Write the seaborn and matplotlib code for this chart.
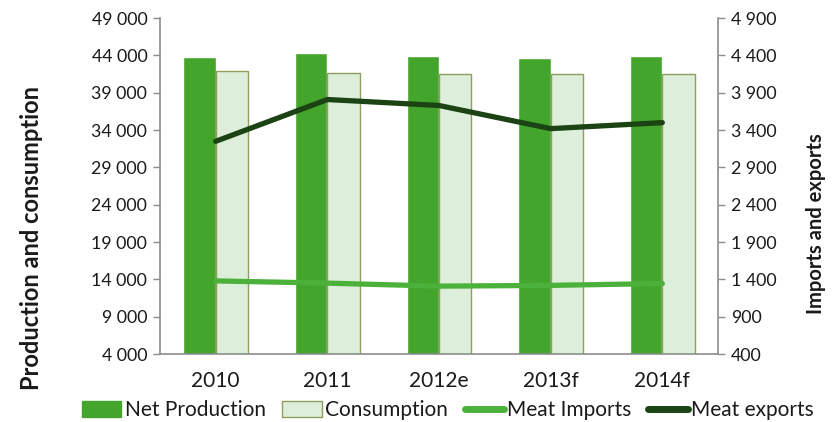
import numpy as np
import pandas as pd
import matplotlib
matplotlib.use('Agg')
import matplotlib.pyplot as plt
import matplotlib.ticker as ticker
from matplotlib.patches import Patch
from matplotlib.lines import Line2D
import seaborn as sns

# ── Data ─────────────────────────────────────────────────────────────────────
years = ['2010', '2011', '2012e', '2013f', '2014f']
net_production = [43800, 44300, 43900, 43700, 43900]
consumption = [41900, 41700, 41500, 41500, 41500]
meat_imports = [1380, 1350, 1310, 1320, 1345]
meat_exports = [3250, 3810, 3730, 3420, 3500]

left_ticks = [4000, 9000, 14000, 19000, 24000, 29000, 34000, 39000, 44000, 49000]
right_ticks = [400, 900, 1400, 1900, 2400, 2900, 3400, 3900, 4400, 4900]

# ── Style ────────────────────────────────────────────────────────────────────
sns.set_theme(style="white")
plt.rcParams['font.family'] = ['Lato', 'DejaVu Sans']

c_prod = '#43a52b'
c_cons = '#ddeedb'
c_cons_edge = '#8f9e5a'
c_imp = '#4cb13a'
c_exp = '#1b4313'
spine_c = '#8c8c8c'
txt_c = '#1a1a1a'

df = pd.DataFrame({
    'Year': years * 2,
    'Value': net_production + consumption,
    'Series': ['Net Production'] * len(years) + ['Consumption'] * len(years),
})

fig = plt.figure(figsize=(8.37, 4.22), dpi=100)
ax = fig.add_axes([0.191, 0.161, 0.667, 0.796])

sns.barplot(data=df, x='Year', y='Value', hue='Series',
            palette={'Net Production': c_prod, 'Consumption': c_cons},
            width=0.58, gap=0, ax=ax, legend=False, saturation=1)
for p in ax.patches[len(years):]:
    p.set_edgecolor(c_cons_edge)
    p.set_linewidth(1.0)

ax.set_ylim(4000, 49000)
ax.set_xlim(-0.5, len(years) - 0.5)
ax.set_yticks(left_ticks)
ax.yaxis.set_major_formatter(ticker.FuncFormatter(lambda v, _: f'{v:,.0f}'.replace(',', ' ')))

ax2 = ax.twinx()
xpos = np.arange(len(years))
sns.lineplot(x=xpos, y=meat_imports, ax=ax2, color=c_imp, linewidth=3.8,
             solid_capstyle='round')
sns.lineplot(x=xpos, y=meat_exports, ax=ax2, color=c_exp, linewidth=3.8,
             solid_capstyle='round')
ax2.set_ylim(400, 4900)
ax2.set_yticks(right_ticks)
ax2.yaxis.set_major_formatter(ticker.FuncFormatter(lambda v, _: f'{v:,.0f}'.replace(',', ' ')))
ax2.set_xlim(-0.5, len(years) - 0.5)

# category axis: labels at centres, ticks between groups
ax.set_xticks(xpos)
ax.set_xticklabels(years)
ax.set_xticks(np.arange(-0.5, len(years), 1.0), minor=True)
ax.tick_params(axis='x', which='major', length=0, pad=12, labelsize=15, labelcolor=txt_c)
ax.tick_params(axis='x', which='minor', length=6, width=1, color=spine_c, direction='out')
ax.tick_params(axis='y', length=5, width=1, color=spine_c, direction='out',
               labelsize=12.8, labelcolor=txt_c, pad=4)
ax2.tick_params(axis='y', length=5, width=1, color=spine_c, direction='out',
                labelsize=12.8, labelcolor=txt_c, pad=4)
ax.set_xlabel('')
ax.set_ylabel('')
ax2.set_ylabel('')

for a in (ax, ax2):
    a.spines['top'].set_visible(False)
    for s in ('left', 'right', 'bottom'):
        a.spines[s].set_color(spine_c)
        a.spines[s].set_linewidth(1.2)
ax.spines['right'].set_visible(False)
ax2.spines['left'].set_visible(False)
ax2.spines['bottom'].set_visible(False)

# axis titles placed as in the reference (Excel style)
fig.text(32 / 837, 1 - 238 / 422, 'Production and consumption', rotation=90,
         ha='center', va='center', fontsize=17, fontweight='bold', color=txt_c)
fig.text(816 / 837, 1 - 224 / 422, 'Imports and exports', rotation=90,
         ha='center', va='center', fontsize=14.5, fontweight='bold', color=txt_c)

handles = [
    Patch(facecolor=c_prod, edgecolor=c_prod, label='Net Production'),
    Patch(facecolor=c_cons, edgecolor=c_cons_edge, label='Consumption'),
    Line2D([0], [0], color=c_imp, lw=5, solid_capstyle='round', label='Meat Imports'),
    Line2D([0], [0], color=c_exp, lw=5, solid_capstyle='round', label='Meat exports'),
]
fig.legend(handles=handles, loc='center', bbox_to_anchor=(0.535, 0.028), ncol=4,
           frameon=False, fontsize=15, handlelength=1.9, handleheight=0.8,
           handletextpad=0.15, columnspacing=0.8, labelcolor=txt_c)

fig.savefig('out.png', dpi=100, facecolor='white')
